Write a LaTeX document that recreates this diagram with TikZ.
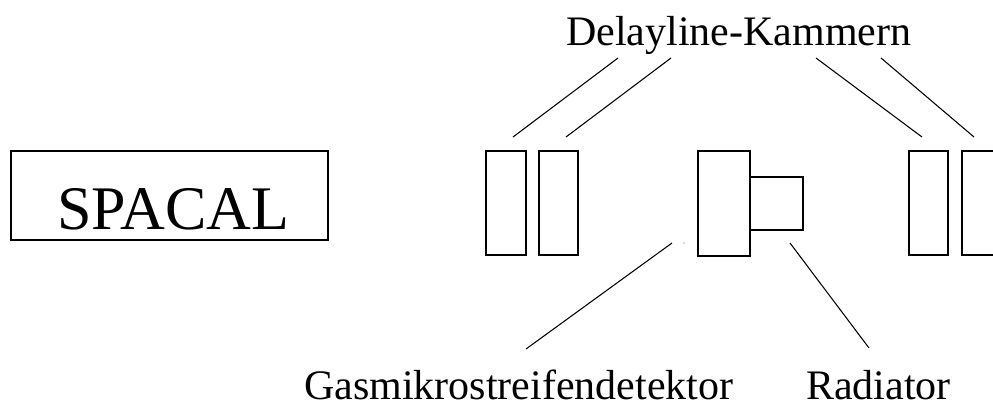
\documentclass[tikz,border=0pt]{standalone}
\usepackage{fontspec}
\setmainfont{Liberation Serif}
\begin{document}
\begin{tikzpicture}[x=0.75pt,y=-0.75pt,
  part/.style={draw=black,line width=0.9pt},
  pointer/.style={draw=black,line width=0.8pt},
  label/.style={anchor=base west,inner sep=0pt,font=\fontsize{31.5pt}{36pt}\selectfont},
  biglabel/.style={anchor=base west,inner sep=0pt,font=\fontsize{46.5pt}{52pt}\selectfont}]
\useasboundingbox (0,0) rectangle (993,404);
\clip (0,0) rectangle (993,404);

% calorimeter
\draw[part] (11,151) rectangle (328,240);
\node[biglabel] (spacal) at (57,229) {SPACAL};

% delay line chambers
\draw[part] (486,151) rectangle (526,255);
\draw[part] (539,151) rectangle (578,255);
\draw[part] (909,151) rectangle (948,255);
\draw[part] (962,151) rectangle (1010,255);

% gas microstrip detector with radiator
\draw[part] (698,151) rectangle (750,256);
\draw[part] (750,177) rectangle (803,230);

% labels
\node[label] (delay) at (566,45) {Delayline-Kammern};
\node[label] (gmsd) at (304,399) {Gasmikrostreifendetektor};
\node[label] (rad) at (806,399) {Radiator};

% leader lines
\coordinate (d1a) at (618,58);  \coordinate (d1b) at (513,137);
\coordinate (d2a) at (671,58);  \coordinate (d2b) at (566,137);
\coordinate (d3a) at (816,58);  \coordinate (d3b) at (922,137);
\coordinate (d4a) at (881,58);  \coordinate (d4b) at (974,137);
\draw[pointer] (d1a) -- (d1b);
\draw[pointer] (d2a) -- (d2b);
\draw[pointer] (d3a) -- (d3b);
\draw[pointer] (d4a) -- (d4b);

\coordinate (g1) at (526,349); \coordinate (g2) at (672,243);
\draw[pointer] (g1) -- (g2);
\fill[black!60] (684,243) circle (0.6);

\coordinate (r1) at (790,243); \coordinate (r2) at (869,348);
\draw[pointer] (r1) -- (r2);
\end{tikzpicture}
\end{document}
